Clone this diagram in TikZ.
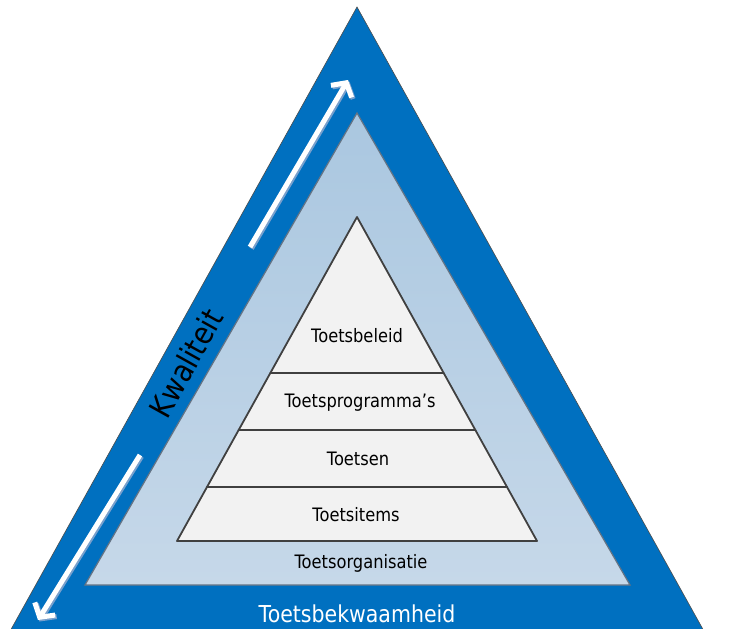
\documentclass[tikz,border=0pt]{standalone}
\usepackage{fontspec}
\setmainfont[FakeStretch=0.88]{DejaVu Sans}
\usetikzlibrary{calc,arrows.meta}
\definecolor{kwaliteitblue}{RGB}{0,112,192}
\definecolor{laagtop}{RGB}{170,199,224}
\definecolor{laagbottom}{RGB}{198,216,233}
\definecolor{laagedge}{RGB}{100,115,132}
\definecolor{bandgrey}{RGB}{242,242,242}
\definecolor{edgegrey}{RGB}{64,64,64}
\definecolor{pijlshadow}{RGB}{120,160,205}

\begin{document}
\begin{tikzpicture}[x=1pt,y=-1pt,
  band/.style={fill=bandgrey,draw=edgegrey,line width=1.8pt,line join=round},
  bandtext/.style={anchor=base,font=\fontsize{18.5}{21}\selectfont},
  pijl/.style={line width=5pt,-{Straight Barb[length=10pt,width=24pt]}}]
\useasboundingbox (0,0) rectangle (747,629);
\clip (0,0) rectangle (747,629);
\fill[white] (0,0) rectangle (747,629);
\coordinate (top) at (357,7);
\coordinate (bl) at (-6,660);
\coordinate (br) at (720,660);
\coordinate (mtop) at (357,113);
\coordinate (mbl) at (85,585);
\coordinate (mbr) at (630,585);
\coordinate (itop) at (357,217);
\coordinate (l4) at (177,541);
\coordinate (r4) at (537,541);
\foreach \n/\f in {1/0.4815,2/0.6574,3/0.8333}
{
\coordinate (l\n) at ($(itop)!\f!(l4)$);
\coordinate (r\n) at ($(itop)!\f!(r4)$);
}

% the blue outer triangle
\filldraw[kwaliteitblue,draw=black!70,line width=0.6pt] (top) -- (bl) -- (br) -- cycle;
% the light blue triangle
\path[draw=laagedge,line width=1.2pt,top color=laagtop,bottom color=laagbottom]
(mtop) -- (mbl) -- (mbr) -- cycle;
% the pyramid bands
\draw[band] (itop) -- (r1) -- (l1) -- cycle;
\foreach \a/\b in {1/2,2/3,3/4}
{
\draw[band] (l\a) -- (r\a) -- (r\b) -- (l\b) -- cycle;
}
% labels in the bands
\node[bandtext] (beleid) at (357,342) {Toetsbeleid};
\node[bandtext] (programma) at (360,407) {Toetsprogramma’s};
\node[bandtext] (toetsen) at (358,465) {Toetsen};
\node[bandtext] (items) at (356,521) {Toetsitems};
\node[bandtext] (organisatie) at (361,568) {Toetsorganisatie};
\node[bandtext,text=white,font=\fontsize{23.3}{26}\selectfont] (bekwaam) at (357,622) {Toetsbekwaamheid};
\node[rotate=60.9,font=\fontsize{31}{34}\selectfont] (kwaliteit) at (186,363) {Kwaliteit};

% the arrows along the left edge
\coordinate (upstart) at (250,247);
\coordinate (upend) at (348,80);
\coordinate (downstart) at (140,455);
\coordinate (downend) at (38,620);
\foreach \s/\e in {upstart/upend,downstart/downend}
{
\draw[pijl,pijlshadow] ($(\s)+(1.5,1.5)$) -- ($(\e)+(1.5,1.5)$);
\draw[pijl,white] (\s) -- (\e);
}
\end{tikzpicture}
\end{document}
